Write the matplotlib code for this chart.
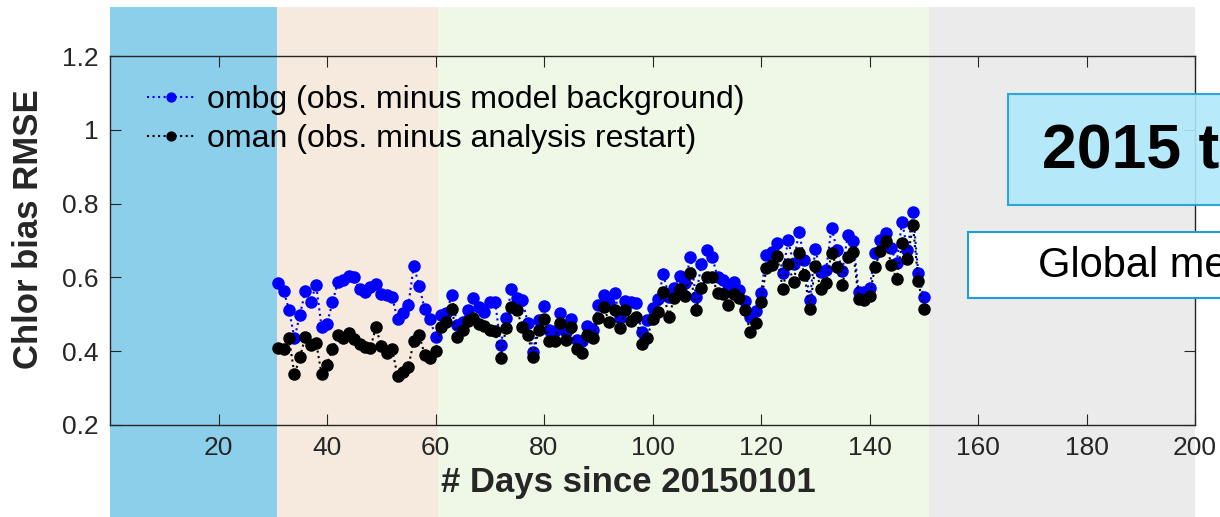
import numpy as np
import matplotlib.pyplot as plt
import matplotlib.transforms as mtransforms
from matplotlib.patches import Rectangle

plt.rcParams['font.family'] = ['Liberation Sans', 'DejaVu Sans']

# daily values, 1 Feb (day 31) to 30 May (day 150)
days = list(range(31, 151))

ombg = [0.584, 0.564, 0.512, 0.435, 0.498, 0.563, 0.534, 0.580, 0.465, 0.474,
        0.532, 0.587, 0.593, 0.604, 0.600, 0.568, 0.561, 0.573, 0.582, 0.554,
        0.552, 0.548, 0.486, 0.503, 0.525, 0.631, 0.577, 0.514, 0.487, 0.438,
        0.498, 0.503, 0.552, 0.471, 0.480, 0.512, 0.543, 0.520, 0.507, 0.534,
        0.534, 0.417, 0.489, 0.568, 0.543, 0.540, 0.477, 0.399, 0.485, 0.522,
        0.457, 0.456, 0.504, 0.453, 0.487, 0.430, 0.428, 0.468, 0.457, 0.525,
        0.552, 0.531, 0.557, 0.489, 0.536, 0.534, 0.531, 0.453, 0.485, 0.516,
        0.541, 0.609, 0.548, 0.571, 0.605, 0.584, 0.656, 0.548, 0.635, 0.674,
        0.656, 0.600, 0.593, 0.568, 0.588, 0.566, 0.536, 0.493, 0.510, 0.557,
        0.661, 0.670, 0.694, 0.611, 0.701, 0.636, 0.724, 0.647, 0.539, 0.676,
        0.615, 0.620, 0.735, 0.674, 0.618, 0.715, 0.699, 0.561, 0.561, 0.570,
        0.665, 0.701, 0.721, 0.679, 0.638, 0.751, 0.674, 0.776, 0.611, 0.546]

oman = [0.410, 0.407, 0.435, 0.337, 0.383, 0.438, 0.417, 0.423, 0.338, 0.363,
        0.405, 0.444, 0.435, 0.450, 0.432, 0.419, 0.412, 0.408, 0.465, 0.415,
        0.394, 0.406, 0.333, 0.344, 0.358, 0.428, 0.444, 0.390, 0.381, 0.401,
        0.466, 0.480, 0.514, 0.439, 0.457, 0.483, 0.489, 0.474, 0.468, 0.457,
        0.456, 0.381, 0.464, 0.519, 0.512, 0.465, 0.444, 0.385, 0.457, 0.486,
        0.428, 0.428, 0.477, 0.430, 0.466, 0.405, 0.396, 0.444, 0.437, 0.491,
        0.519, 0.480, 0.512, 0.462, 0.512, 0.483, 0.493, 0.420, 0.435, 0.487,
        0.507, 0.561, 0.493, 0.543, 0.568, 0.550, 0.611, 0.512, 0.571, 0.602,
        0.602, 0.557, 0.554, 0.525, 0.555, 0.543, 0.512, 0.453, 0.476, 0.534,
        0.625, 0.634, 0.658, 0.569, 0.636, 0.587, 0.667, 0.607, 0.514, 0.631,
        0.568, 0.584, 0.667, 0.627, 0.579, 0.656, 0.670, 0.541, 0.539, 0.550,
        0.627, 0.672, 0.699, 0.634, 0.595, 0.694, 0.649, 0.742, 0.590, 0.514]

# background periods (day ranges) and their colours
band_edges = [0, 30.7, 60.5, 151, 200]
band_colors = ['#8BCFEB', '#F5EADD', '#EFF7E6', '#EBEBEB']

xticks = [20, 40, 60, 80, 100, 120, 140, 160, 180, 200]
yticks = [0.2, 0.4, 0.6, 0.8, 1.0, 1.2]
ytick_labels = ['0.2', '0.4', '0.6', '0.8', '1', '1.2']

fig = plt.figure(figsize=(12.2, 5.17), dpi=100)
ax = fig.add_axes([110/1220, 1 - 425/517, 1085/1220, 369/517])
ax.patch.set_alpha(0)

trans = mtransforms.blended_transform_factory(ax.transData, fig.transFigure)
for i in range(len(band_colors)):
    fig.patches.append(Rectangle((band_edges[i], 0), band_edges[i+1] - band_edges[i], 1 - 7/517,
                                 transform=trans, facecolor=band_colors[i],
                                 edgecolor='none', zorder=-5))

ax.plot(days, ombg, ':', color='blue', marker='o', markersize=8, linewidth=1.5,
        label='ombg (obs. minus model background)')
ax.plot(days, oman, ':', color='black', marker='o', markersize=8, linewidth=1.5,
        label='oman (obs. minus analysis restart)')

ax.set_xlim(0, 200)
ax.set_ylim(0.2, 1.2)
ax.set_xticks(xticks)
ax.set_yticks(yticks)
ax.set_yticklabels(ytick_labels)
ax.tick_params(direction='in', length=8, top=True, right=True, labelsize=19,
               colors='#262626', pad=8)
for s in ax.spines.values():
    s.set_color('#262626')
    s.set_linewidth(1)

ax.set_xlabel('# Days since 20150101', fontsize=25, fontweight='bold', color='#262626')
ax.set_ylabel('Chlor bias RMSE', fontsize=25, fontweight='bold', color='#262626')
ax.xaxis.set_label_coords(0.478, -0.11)
ax.yaxis.set_label_coords(-0.06, 0.53)

ax.legend(loc='upper left', bbox_to_anchor=(0.008, 1.0), frameon=False, fontsize=23,
          handlelength=1.5, handletextpad=0.35, labelspacing=0.28, markerscale=0.8)

# annotation boxes running off the right edge
fig.patches.append(Rectangle((1008/1220, 1 - 205/517), 0.3, 111/517, transform=fig.transFigure,
                             facecolor='#B0E8FA', edgecolor='#1A9FD9', linewidth=1.5,
                             alpha=0.9, zorder=5))
fig.text(1042/1220, 1 - 152/517, '2015 to 2016', fontsize=45, fontweight='bold',
         va='center', ha='left', zorder=6)
fig.patches.append(Rectangle((968/1220, 1 - 298/517), 0.3, 66/517, transform=fig.transFigure,
                             facecolor='white', edgecolor='#1A9FD9', linewidth=1.5, zorder=5))
fig.text(1038/1220, 1 - 266/517, 'Global mean', fontsize=30, va='center', ha='left', zorder=6)

fig.savefig('out.png', dpi=100)
